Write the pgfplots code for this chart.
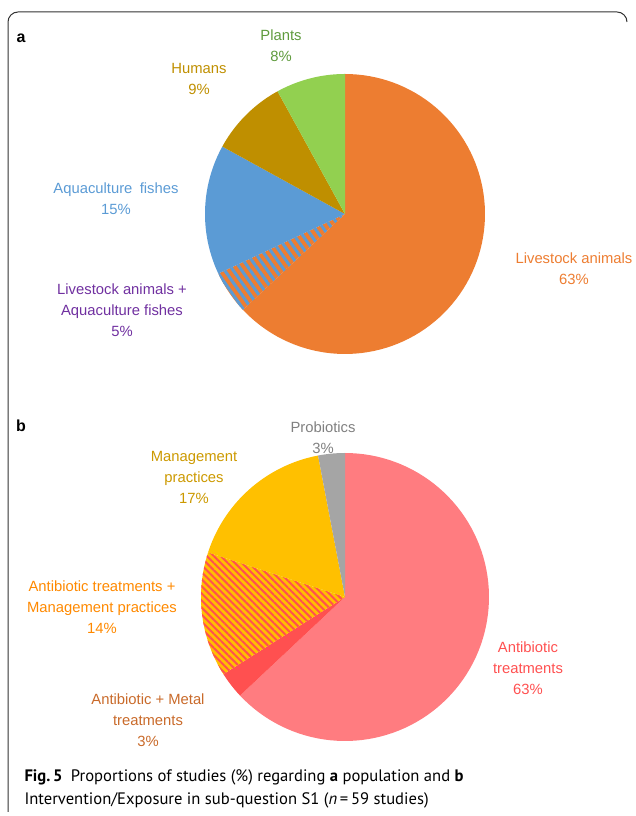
\documentclass[border=0pt]{standalone}
\usepackage{pgfplots}
\pgfplotsset{compat=1.18}
\usepackage{fontspec}
\setmainfont{Liberation Sans}
\newfontfamily\capfont{PT Sans}
\usetikzlibrary{patterns.meta}
\definecolor{cOr}{HTML}{ED7D31}
\definecolor{cBl}{HTML}{5B9BD5}
\definecolor{cHu}{HTML}{BF8F00}
\definecolor{cPl}{HTML}{92D050}
\definecolor{cPink}{HTML}{FF7C80}
\definecolor{cRed}{HTML}{FF5050}
\definecolor{cYe}{HTML}{FFC000}
\definecolor{cGr}{HTML}{A5A5A5}
\definecolor{cPur}{HTML}{7030A0}
\definecolor{cPlT}{HTML}{5E9A3C}
% slice: cx, cy(pixel from top), r, start %, end %, style
\newcommand{\slice}[6]{%
  \addplot[#6, draw=none, domain={90-3.6*#5}:{90-3.6*#4}, samples=90, variable=\t]
   ({#1+#3*cos(\t)},{816-#2+#3*sin(\t)}) -- (axis cs:#1,{816-#2}) -- cycle;}
\newcommand{\lbl}[4]{\node[align=center,text=#3,font=\fontsize{14.8}{21}\selectfont] at (axis cs:#1,{816-#2}) {#4};}
\begin{document}
\begin{tikzpicture}
\begin{axis}[width=632pt,height=816pt,scale only axis,xmin=0,xmax=632,ymin=0,ymax=816,hide axis,clip=false]
\addplot[draw=none,forget plot] coordinates {(0,0) (632,816)};
% frame
\draw[black!80,line width=1pt] (axis cs:8,4) -- (axis cs:8,794) arc[start angle=180,end angle=90,radius=10pt] -- (axis cs:617,804) arc[start angle=90,end angle=0,radius=10pt];
% pie a : Livestock 63, Livestock+Aqua 5, Aquaculture 15, Humans 9, Plants 8
\slice{345}{214}{140}{0}{63}{fill=cOr}
\slice{345}{214}{140}{63}{68}{fill=cOr}
\slice{345}{214}{140}{63}{68}{pattern={Lines[angle=125,distance=7pt,line width=3pt]},pattern color=cBl}
\slice{345}{214}{140}{68}{83}{fill=cBl}
\slice{345}{214}{140}{83}{92}{fill=cHu}
\slice{345}{214}{140}{92}{100}{fill=cPl}
% pie b : Antibiotic 63, Antibiotic+Metal 3, Antibiotic+Management 14, Management 17, Probiotics 3
\slice{345}{597}{144}{0}{63}{fill=cPink}
\slice{345}{597}{144}{63}{66}{fill=cRed}
\slice{345}{597}{144}{66}{80}{fill=cYe}
\slice{345}{597}{144}{66}{80}{pattern={Lines[angle=135,distance=5pt,line width=2pt]},pattern color=cRed}
\slice{345}{597}{144}{80}{97}{fill=cYe}
\slice{345}{597}{144}{97}{100}{fill=cGr}
% labels
\node[font=\bfseries\fontsize{16}{18}\selectfont] at (axis cs:21,{816-38}) {a};
\node[font=\bfseries\fontsize{16}{18}\selectfont] at (axis cs:21,{816-426}) {b};
\lbl{281}{46}{cPlT}{Plants\\8\%}
\lbl{199}{79}{cHu}{Humans\\9\%}
\lbl{116}{199}{cBl}{Aquaculture\enspace fishes\\15\%}
\lbl{122}{310}{cPur}{Livestock animals +\\Aquaculture fishes\\5\%}
\lbl{574}{269}{cOr}{Livestock animals\\63\%}
\lbl{323}{438}{gray}{Probiotics\\3\%}
\lbl{194}{477}{cHu!80!cYe}{Management\\practices\\17\%}
\lbl{102}{607}{orange!85!cYe}{Antibiotic treatments +\\Management practices\\14\%}
\lbl{528}{668}{cRed}{Antibiotic\\treatments\\63\%}
\lbl{148}{720}{cOr!85!black}{Antibiotic + Metal\\treatments\\3\%}
\node[anchor=west,align=left,font=\capfont\fontsize{16.6}{23}\selectfont] at (axis cs:21,{816-789})
 {\textbf{Fig.\,5}\enspace Proportions of studies (\%) regarding \textbf{a} population and \textbf{b}\\Intervention/Exposure in sub-question S1 (\textit{n}\,=\,59 studies)};
\end{axis}
\end{tikzpicture}
\end{document}
